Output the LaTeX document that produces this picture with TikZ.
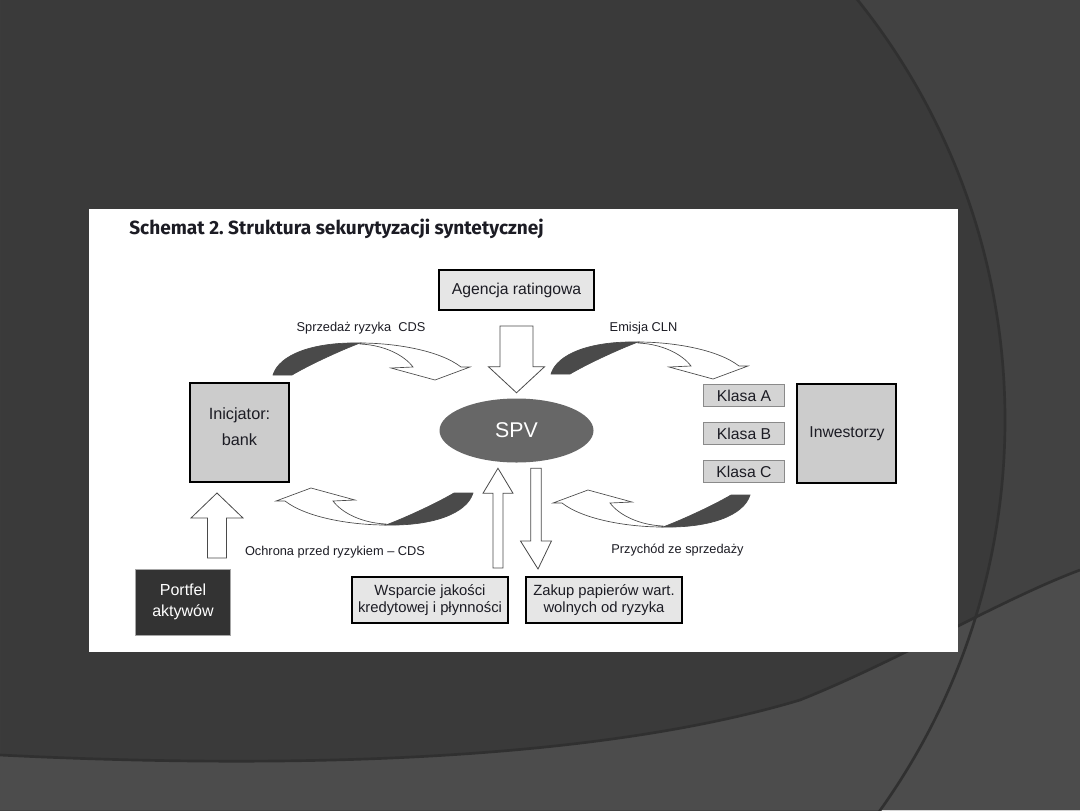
\documentclass[tikz,border=0pt]{standalone}
\usepackage{fontspec}
\setmainfont{Liberation Sans}
\newfontfamily\titlefont{Fira Sans}
\usepackage{tikz}
\usetikzlibrary{positioning,calc,shapes.geometric}
\frenchspacing
\definecolor{SBack}{HTML}{3A3A3A}
\definecolor{SBackLight}{HTML}{424242}
\definecolor{SBand}{HTML}{4C4C4C}
\definecolor{SLine}{HTML}{303030}
\definecolor{SInk}{HTML}{1C1C24}
\definecolor{SBoxLight}{HTML}{E6E6E6}
\definecolor{SBoxGray}{HTML}{CCCCCC}
\definecolor{SKlasa}{HTML}{D4D4D4}
\definecolor{SKlasaEdge}{HTML}{8A8A8A}
\definecolor{SDark}{HTML}{333333}
\definecolor{SSpv}{HTML}{676767}
\definecolor{SShade}{HTML}{4A4A4A}
\definecolor{SEdge}{HTML}{4A4A4A}
\newcommand{\vblock}[5]{%
  \draw[blockarr] let \p1=(#1), \p2=(#2), \p3=($(#2)!#5!(#1)$) in
    (\x1-#3,\y1) -- (\x1-#3,\y3) -- (\x1-#4,\y3) -- (\x2,\y2)
    -- (\x1+#4,\y3) -- (\x1+#3,\y3) -- (\x1+#3,\y1) -- cycle;}
\newcommand{\curvarrow}[2]{%
  \begin{scope}[shift={#1},rotate=#2]
    \draw[curvewhite] (86,-32) .. controls (120,-32) and (165,-25) .. (187,-8)
      -- (196,-8) -- (161,5) -- (117,-7) -- (139,-8)
      .. controls (130,-20) and (110,-30) .. (86,-31) -- cycle;
    \draw[curveshade] (-1,0) .. controls (5,-20) and (38,-33) .. (86,-32)
      .. controls (65,-24) and (35,-10) .. (18,0) -- cycle;
  \end{scope}}

\begin{document}
\begin{tikzpicture}[x=0.75pt,y=-0.75pt,
  every node/.style={font=\fontsize{11.8}{14}\selectfont,text=SInk},
  box/.style={draw=black,line width=1.5pt,fill=SBoxLight,align=center,inner sep=0pt},
  party/.style={box,fill=SBoxGray,minimum width=74.25pt,minimum height=74.25pt},
  klasa/.style={draw=SKlasaEdge,line width=0.75pt,fill=SKlasa,
    minimum width=60.75pt,minimum height=16.5pt,inner sep=0pt},
  support/.style={box,minimum width=117pt,minimum height=34.5pt,
    font=\fontsize{11.1}{13.2}\selectfont},
  lbl/.style={font=\fontsize{9.6}{11}\selectfont,inner sep=0pt},
  blockarr/.style={draw=SEdge,line width=0.6pt,fill=white},
  curvewhite/.style={draw=SEdge,line width=0.5pt,fill=white},
  curveshade/.style={draw=SEdge,line width=0.5pt,fill=SShade}
]
  \useasboundingbox (0,0) rectangle (1080,810);
  \fill[SBack] (0,0) rectangle (1080,810);
  \begin{scope}
    \clip (0,0) rectangle (1080,810);
    \fill[SBackLight,even odd rule] (0,0) rectangle (1080,810) (333,420) circle (672);
    \fill[SBand] (0,755) .. controls (300,770) and (600,760) .. (800,700)
      .. controls (900,660) and (1000,600) .. (1080,570) -- (1080,810) -- (0,810) -- cycle;
    \draw[SLine,line width=2pt] (333,420) circle (672);
    \draw[SLine,line width=2pt] (0,755) .. controls (300,770) and (600,760) .. (800,700)
      .. controls (900,660) and (1000,600) .. (1080,570);
  \end{scope}
  \fill[white] (89,209) rectangle (958,652);

  \node[anchor=base west,inner sep=0pt,text=SInk,
    font=\titlefont\bfseries\fontsize{14.3}{16}\selectfont] (title) at (129,234.5)
    {Schemat 2. Struktura sekurytyzacji syntetycznej};

  \node[box,minimum width=116.25pt,minimum height=30pt] (agencja) at (516.5,290)
    {Agencja ratingowa};
  \node[ellipse,fill=SSpv,minimum width=115.5pt,minimum height=48pt,inner sep=0pt,
    text=white,font=\fontsize{16}{18}\selectfont] (spv) at (516.5,430.5) {SPV};
  \node[party,font=\fontsize{12.2}{20}\selectfont] (bank) at (239.5,432.5)
    {Inicjator:\\bank\\[-11pt]};
  \node[klasa] (klasaA) at (744,395.5) {Klasa A};
  \node[klasa,below=11.25pt of klasaA] (klasaB) {Klasa B};
  \node[klasa,below=11.25pt of klasaB] (klasaC) {Klasa C};
  \node[party,right=8.6pt of klasaB] (inwest) {Inwestorzy};
  \node[box,fill=SDark,draw=gray!70,line width=0.75pt,text=white,
    minimum width=71.25pt,minimum height=49.5pt,
    font=\fontsize{12}{15.5}\selectfont] (portfel) at (183,602) {Portfel\\aktywów};
  \node[support] (wsparcie) at (430,600) {Wsparcie jakości\\kredytowej i płynności};
  \node[support,right=12pt of wsparcie] (zakup) {Zakup papierów wart.\\wolnych od ryzyka};

  \coordinate (agTail) at ([yshift=-11.25pt]agencja.south);
  \coordinate (agTip) at ([yshift=4.1pt]spv.north);
  \coordinate (pfTail) at ([xshift=25.5pt,yshift=7.9pt]portfel.north);
  \coordinate (pfTip) at ([xshift=-16.9pt,yshift=-7.5pt]bank.south);
  \coordinate (wsTail) at ([xshift=51pt,yshift=6pt]wsparcie.north);
  \coordinate (wsTip) at ([xshift=-13.9pt,yshift=-4.1pt]spv.south);
  \coordinate (zkTail) at ([xshift=14.6pt,yshift=-4.1pt]spv.south);
  \coordinate (zkTip) at ([xshift=-49.5pt,yshift=5.25pt]zakup.north);

  \vblock{agTail}{agTip}{12.4pt}{21pt}{19.5pt}
  \vblock{pfTail}{pfTip}{7.1pt}{19.5pt}{18.75pt}
  \vblock{wsTail}{wsTip}{3.75pt}{11.25pt}{18.75pt}
  \vblock{zkTail}{zkTip}{3.9pt}{11.6pt}{21pt}

  \curvarrow{(274,375)}{0}
  \curvarrow{(552,374)}{0}
  \curvarrow{(472,493)}{180}
  \curvarrow{(749,495)}{180}

  \node[lbl] (sprzedaz) at (361,328) {Sprzedaż ryzyka~ CDS};
  \node[lbl] (emisja) at (643.5,328) {Emisja CLN};
  \node[lbl] (ochrona) at (335,552) {Ochrona przed ryzykiem -- CDS};
  \node[lbl] (przychod) at (677.5,550) {Przychód ze sprzedaży};
\end{tikzpicture}
\end{document}
